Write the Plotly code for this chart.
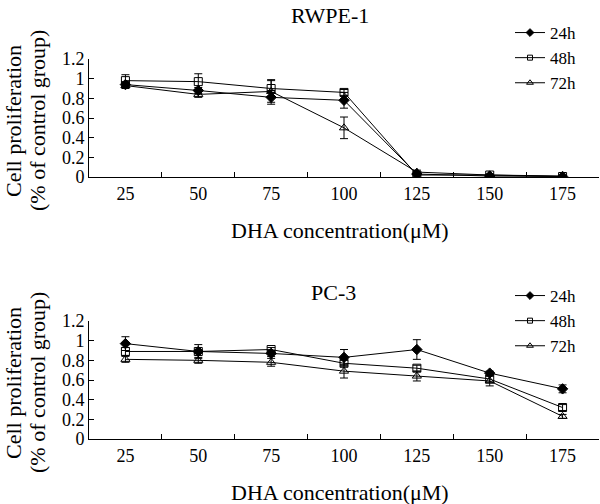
import plotly.graph_objects as go

concentrations = ["25", "50", "75", "100", "125", "150", "175"]
series_names = ["24h", "48h", "72h"]

# RWPE-1
rwpe_24 = [0.94, 0.88, 0.81, 0.78, 0.03, 0.01, 0.005]
rwpe_48 = [0.98, 0.97, 0.90, 0.86, 0.02, 0.02, 0.005]
rwpe_72 = [0.93, 0.84, 0.87, 0.50, 0.05, 0.02, 0.01]
rwpe_24_err = [0.03, 0.03, 0.07, 0.08, 0.02, 0.01, 0.005]
rwpe_48_err = [0.06, 0.08, 0.09, 0.03, 0.01, 0.01, 0.005]
rwpe_72_err = [0.03, 0.03, 0.11, 0.11, 0.02, 0.01, 0.005]

# PC-3
pc3_24 = [0.97, 0.89, 0.87, 0.83, 0.91, 0.67, 0.51]
pc3_48 = [0.89, 0.89, 0.91, 0.77, 0.72, 0.61, 0.32]
pc3_72 = [0.81, 0.80, 0.78, 0.69, 0.64, 0.59, 0.23]
pc3_24_err = [0.07, 0.02, 0.03, 0.08, 0.10, 0.02, 0.04]
pc3_48_err = [0.04, 0.07, 0.02, 0.03, 0.03, 0.03, 0.03]
pc3_72_err = [0.03, 0.03, 0.04, 0.07, 0.05, 0.05, 0.02]

panel_titles = ["RWPE-1", "PC-3"]
x_title = "DHA concentration(μM)"
y_title_lines = ["Cell proliferation", "(% of control group)"]

FONT = "Liberation Serif"
symbols = ["diamond", "square-open", "triangle-up-open"]
msizes = [8, 8, 8]
legend_msizes = [6, 5, 6]

W, H = 600, 504


def px(x):
    return x / W


def py(y):
    return 1 - y / H


fig = go.Figure()

panels = [
    ([rwpe_24, rwpe_48, rwpe_72], [rwpe_24_err, rwpe_48_err, rwpe_72_err], "x", "y", "legend"),
    ([pc3_24, pc3_48, pc3_72], [pc3_24_err, pc3_48_err, pc3_72_err], "x2", "y2", "legend2"),
]
for vals, errs, xa, ya, lg in panels:
    for name, v, e, sym, ms in zip(series_names, vals, errs, symbols, msizes):
        fig.add_trace(go.Scatter(
            x=concentrations, y=v, name=name, mode="lines+markers",
            xaxis=xa, yaxis=ya, showlegend=False,
            line=dict(color="black", width=1),
            marker=dict(symbol=sym, size=ms, color="black",
                        line=dict(color="black", width=1)),
            error_y=dict(type="data", array=e, visible=True,
                         color="black", thickness=1, width=4),
        ))
    # legend entries (smaller symbols, as in the reference legend)
    for name, sym, ms in zip(series_names, symbols, legend_msizes):
        fig.add_trace(go.Scatter(
            x=[None], y=[None], name=name, mode="lines+markers",
            xaxis=xa, yaxis=ya, legend=lg, showlegend=True,
            line=dict(color="black", width=1),
            marker=dict(symbol=sym, size=ms, color="black",
                        line=dict(color="black", width=1)),
        ))

axis_common = dict(showline=True, linecolor="black", linewidth=1,
                   showgrid=False, zeroline=False, ticks="inside",
                   ticklen=5, tickcolor="black", tickwidth=1, automargin=False,
                   tickfont=dict(family=FONT, size=18, color="black"))

xd = [px(89), px(599)]
top_dom = [py(177), py(59)]
bot_dom = [py(439), py(321)]

leg_font = dict(family=FONT, size=17, color="black")
title_font = dict(family=FONT, size=22, color="black")

annotations = []
# panel titles
for t, (tx, ty) in zip(panel_titles, [(330, 15), (333, 292)]):
    annotations.append(dict(text=t, x=px(tx), y=py(ty), xref="paper", yref="paper",
                            xanchor="center", yanchor="middle", showarrow=False,
                            font=title_font))
# x-axis titles
for ty in [231, 492]:
    annotations.append(dict(text=x_title, x=px(340), y=py(ty), xref="paper", yref="paper",
                            xanchor="center", yanchor="middle", showarrow=False,
                            font=title_font))
# y-axis titles (two rotated lines)
for cy in [121, 383]:
    for line, lx in zip(y_title_lines, [13, 37]):
        annotations.append(dict(text=line, x=px(lx), y=py(cy), xref="paper", yref="paper",
                                xanchor="center", yanchor="middle", textangle=-90,
                                showarrow=False, font=title_font))

fig.update_layout(
    width=W, height=H,
    margin=dict(l=0, r=0, t=0, b=0),
    paper_bgcolor="white", plot_bgcolor="white",
    font=dict(family=FONT, color="black"),
    xaxis=dict(domain=xd, anchor="y", type="category", tickson="boundaries",
               range=[-0.5, 6.5], **axis_common),
    yaxis=dict(domain=top_dom, anchor="x", range=[0, 1.2], dtick=0.2, **axis_common),
    xaxis2=dict(domain=xd, anchor="y2", type="category", tickson="boundaries",
                range=[-0.5, 6.5], **axis_common),
    yaxis2=dict(domain=bot_dom, anchor="x2", range=[0, 1.2], dtick=0.2, **axis_common),
    legend=dict(x=px(510), y=py(15), xanchor="left", yanchor="top",
                font=leg_font, bgcolor="rgba(0,0,0,0)", tracegroupgap=0),
    legend2=dict(x=px(510), y=py(278), xanchor="left", yanchor="top",
                 font=leg_font, bgcolor="rgba(0,0,0,0)", tracegroupgap=0),
    annotations=annotations,
)

fig.write_html("out.html", config={"displayModeBar": False},
               post_script="document.body.style.margin='0px';")
